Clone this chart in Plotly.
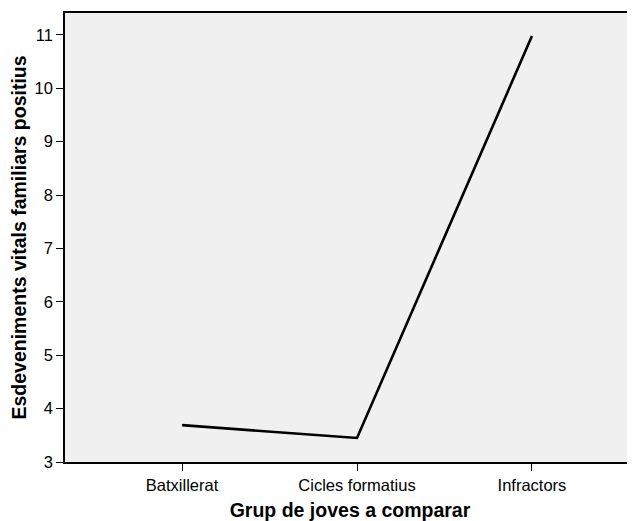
import plotly.graph_objects as go

categories = ["Batxillerat", "Cicles formatius", "Infractors"]
values = [3.69, 3.45, 10.98]
y_ticks = [3, 4, 5, 6, 7, 8, 9, 10, 11]

fig = go.Figure()
fig.add_trace(go.Scatter(
    x=[0, 1, 2], y=values, mode="lines",
    line=dict(color="black", width=2.6),
    hoverinfo="skip", showlegend=False,
))

font = "Liberation Sans, Arial, sans-serif"
# page body has an 8px default margin; margins compensate for it
fig.update_layout(
    width=627, height=513,
    margin=dict(l=57, r=0, t=5, b=59),
    paper_bgcolor="white", plot_bgcolor="#F0F0F0",
    font=dict(family=font, size=16.5, color="black"),
    xaxis=dict(
        range=[-0.669, 2.589], tickmode="array", tickvals=[0, 1, 2], ticktext=categories,
        showgrid=False, zeroline=False, showline=True, linecolor="black", linewidth=1.5,
        mirror=True, ticks="outside", ticklen=7, tickcolor="black", tickwidth=1,
        title=dict(text="<b>Grup de joves a comparar</b>", font=dict(size=19.5, family=font), standoff=12),
        tickfont=dict(size=16.5),
    ),
    yaxis=dict(
        range=[3, 11.41], tickmode="array", tickvals=y_ticks,
        showgrid=False, zeroline=False, showline=True, linecolor="black", linewidth=1.5,
        ticks="outside", ticklen=7, tickcolor="black", tickwidth=1,
        title=dict(text="<b>Esdeveniments vitals familiars positius</b>", font=dict(size=19.5, family=font), standoff=8),
        tickfont=dict(size=16.5),
    ),
)

fig.write_html("out.html")
